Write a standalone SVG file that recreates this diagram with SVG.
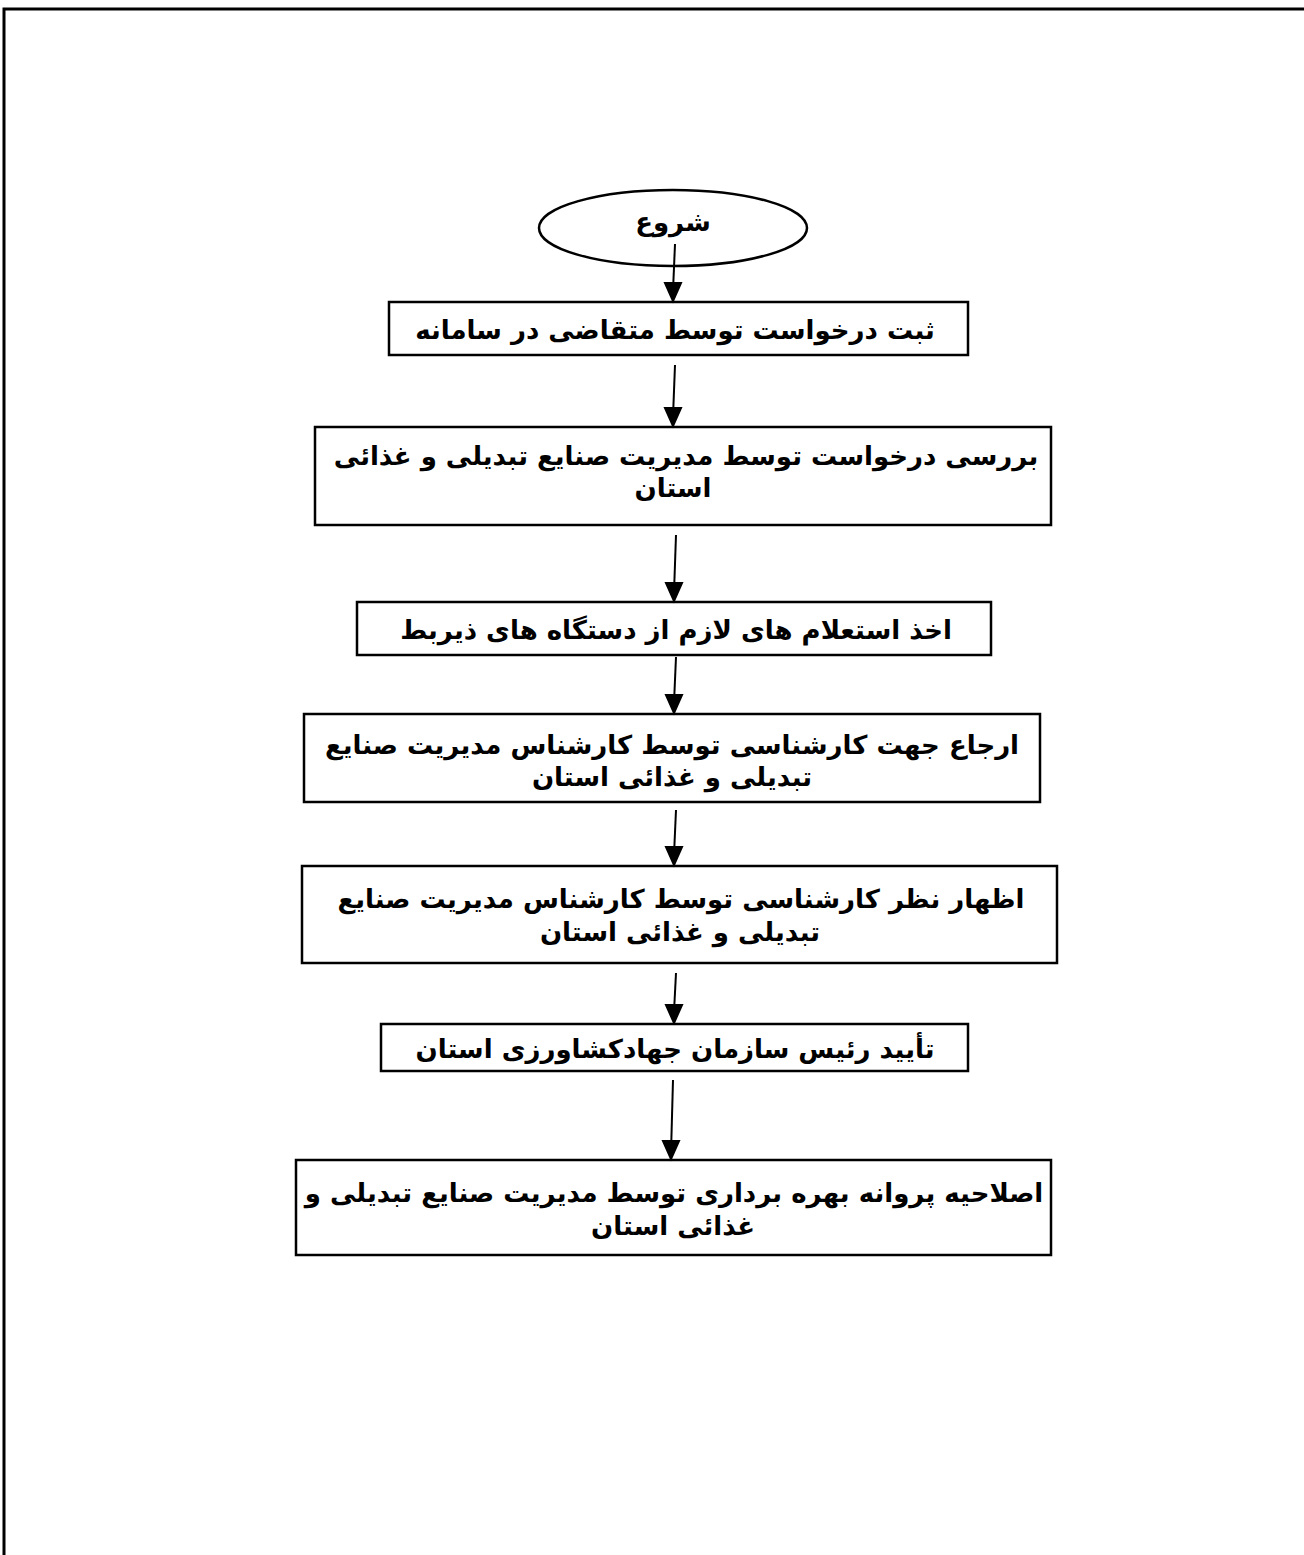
<svg xmlns="http://www.w3.org/2000/svg" width="1304" height="1555" viewBox="0 0 1304 1555">
<defs>
<style>
.frame{fill:none;stroke:#000;stroke-width:3}
.box{fill:#fff;stroke:#000;stroke-width:2.5}
.lbl{font-family:"DejaVu Sans","Noto Sans",sans-serif;font-weight:bold;font-size:26px;fill:#000;text-anchor:middle;direction:rtl;unicode-bidi:embed}
</style>
</defs>
<rect width="1304" height="1555" fill="#fff"/>
<path class="frame" d="M4,1555 L4,9 L1304,9"/>
<g id="n0"><ellipse class="box" cx="673" cy="228" rx="134" ry="38"/><text class="lbl" x="673" y="231">شروع</text></g>
<g id="n1"><rect class="box" x="389" y="302" width="579" height="53"/><text class="lbl" x="675" y="339">ثبت درخواست توسط متقاضی در سامانه</text></g>
<g id="n2"><rect class="box" x="315" y="427" width="736" height="98"/><text class="lbl" x="686" y="465">بررسی درخواست توسط مدیریت صنایع تبدیلی و غذائی</text><text class="lbl" x="673" y="497">استان</text></g>
<g id="n3"><rect class="box" x="357" y="602" width="634" height="53"/><text class="lbl" x="676" y="639">اخذ استعلام های لازم از دستگاه های ذیربط</text></g>
<g id="n4"><rect class="box" x="304" y="714" width="736" height="88"/><text class="lbl" x="672" y="754">ارجاع جهت کارشناسی توسط کارشناس مدیریت صنایع</text><text class="lbl" x="672" y="786">تبدیلی و غذائی استان</text></g>
<g id="n5"><rect class="box" x="302" y="866" width="755" height="97"/><text class="lbl" x="681" y="908">اظهار نظر کارشناسی توسط کارشناس مدیریت صنایع</text><text class="lbl" x="680" y="941">تبدیلی و غذائی استان</text></g>
<g id="n6"><rect class="box" x="381" y="1024" width="587" height="47"/><text class="lbl" x="675" y="1058">تأیید رئیس سازمان جهادکشاورزی استان</text></g>
<g id="n7"><rect class="box" x="296" y="1160" width="755" height="95"/><text class="lbl" x="674" y="1202">اصلاحیه پروانه بهره برداری توسط مدیریت صنایع تبدیلی و</text><text class="lbl" x="673" y="1235">غذائی استان</text></g>
<g id="connectors" stroke="#000" stroke-width="2">
<line x1="675" y1="244" x2="673.3" y2="284"/><polygon points="665,283 681,283 673,301"/>
<line x1="675" y1="365" x2="673.3" y2="409"/><polygon points="665,408 681,408 673,426"/>
<line x1="676" y1="535" x2="674.3" y2="584"/><polygon points="666,583 682,583 674,601"/>
<line x1="676" y1="657" x2="674.3" y2="696"/><polygon points="666,695 682,695 674,713"/>
<line x1="676" y1="810" x2="674.3" y2="848"/><polygon points="666,847 682,847 674,865"/>
<line x1="676" y1="973" x2="674.3" y2="1006"/><polygon points="666,1005 682,1005 674,1023"/>
<line x1="673" y1="1080" x2="671.3" y2="1142"/><polygon points="663,1141 679,1141 671,1159"/>
</g>
</svg>
